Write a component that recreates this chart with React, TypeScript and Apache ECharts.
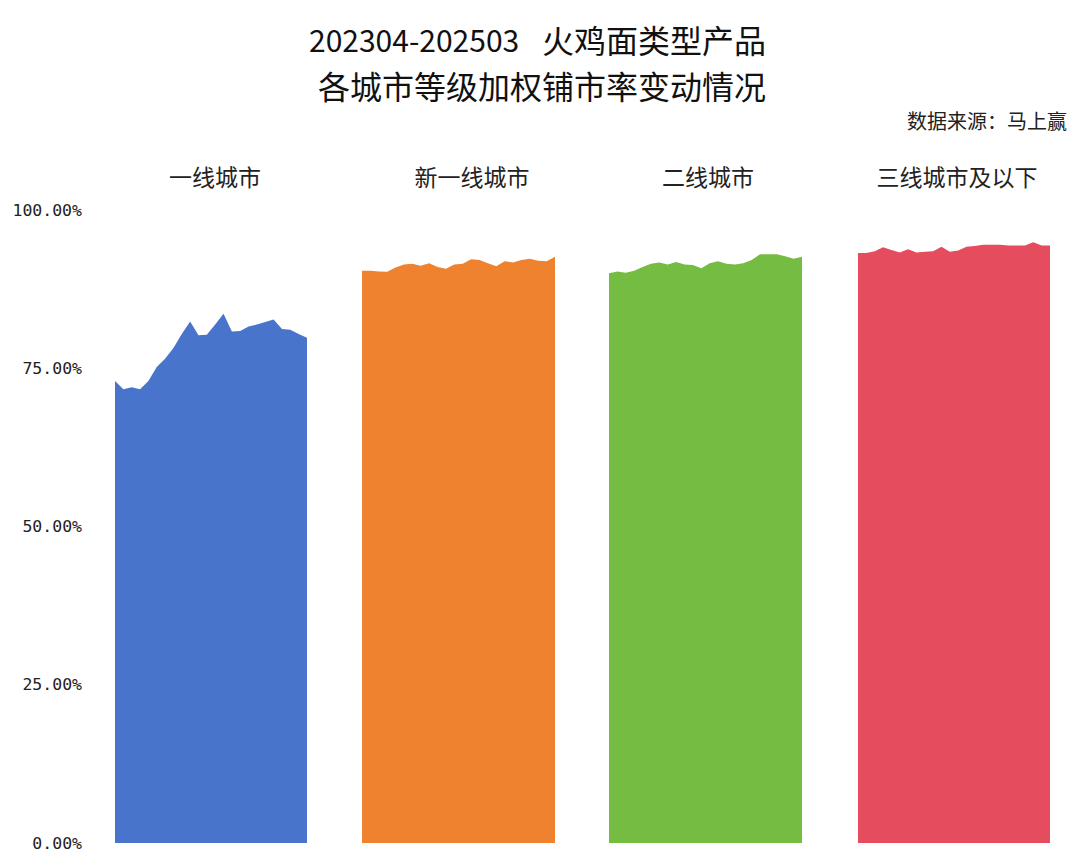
import React, { useEffect, useRef } from 'react';
import * as echarts from 'echarts';

// 202304 - 202503, 24 months
const months = [
  '202304', '202305', '202306', '202307', '202308', '202309', '202310', '202311',
  '202312', '202401', '202402', '202403', '202404', '202405', '202406', '202407',
  '202408', '202409', '202410', '202411', '202412', '202501', '202502', '202503'
];

const tierNames = ['一线城市', '新一线城市', '二线城市', '三线城市及以下'];

const tier1 = [
  73.0, 71.7, 72.0, 71.7, 73.0, 75.2, 76.5, 78.2, 80.4, 82.4, 80.2, 80.3,
  81.9, 83.6, 80.8, 80.9, 81.6, 81.9, 82.3, 82.7, 81.2, 81.1, 80.4, 79.8
];
const tierNew1 = [
  90.4, 90.4, 90.3, 90.25, 90.9, 91.4, 91.5, 91.2, 91.6, 91.0, 90.7, 91.4,
  91.5, 92.2, 92.1, 91.6, 91.1, 91.9, 91.7, 92.1, 92.3, 92.0, 91.9, 92.6
];
const tier2 = [
  90.0, 90.3, 90.1, 90.4, 91.0, 91.5, 91.7, 91.4, 91.8, 91.4, 91.3, 90.8,
  91.6, 91.9, 91.5, 91.4, 91.6, 92.1, 93.0, 93.0, 93.0, 92.7, 92.3, 92.6
];
const tier3 = [
  93.2, 93.2, 93.5, 94.1, 93.7, 93.3, 93.8, 93.3, 93.4, 93.5, 94.2, 93.4,
  93.6, 94.2, 94.3, 94.5, 94.5, 94.5, 94.4, 94.4, 94.4, 94.9, 94.4, 94.4
];

const tierValues = [tier1, tierNew1, tier2, tier3];
const tierColors = ['#4874CB', '#EE822F', '#75BD42', '#E54C5E'];

const yTicks = [0, 25, 50, 75, 100];

const panelLeft = [115, 362, 609, 858];
const panelWidth = [192, 193, 193, 192];
const titleCenter = [215, 472, 708, 957];
const plotTop = 210;
const plotHeight = 633;

const cjk = '"Noto Sans CJK SC", sans-serif';
const mono = '"DejaVu Sans Mono", "Noto Sans CJK SC", monospace';

export default function App() {
  const chartRef = useRef<HTMLDivElement>(null);

  useEffect(() => {
    if (!chartRef.current) return;
    const chart = echarts.init(chartRef.current, null, { renderer: 'svg' });

    const option: echarts.EChartsOption = {
      animation: false,
      backgroundColor: '#ffffff',
      grid: tierNames.map((_, i) => ({
        left: panelLeft[i],
        top: plotTop,
        width: panelWidth[i],
        height: plotHeight
      })),
      xAxis: tierNames.map((_, i) => ({
        type: 'category',
        gridIndex: i,
        data: months,
        boundaryGap: false,
        show: false
      })),
      yAxis: tierNames.map((_, i) => ({
        type: 'value',
        gridIndex: i,
        min: yTicks[0],
        max: yTicks[yTicks.length - 1],
        interval: 25,
        show: i === 0,
        axisLine: { show: false },
        axisTick: { show: false },
        splitLine: { show: false },
        axisLabel: {
          show: i === 0,
          margin: 33,
          color: '#222',
          fontSize: 16.5,
          fontFamily: mono,
          formatter: (v: number) => `${v.toFixed(2)}%`
        }
      })),
      series: tierNames.map((name, i) => ({
        name,
        type: 'line',
        xAxisIndex: i,
        yAxisIndex: i,
        data: tierValues[i],
        symbol: 'none',
        lineStyle: { width: 0 },
        itemStyle: { color: tierColors[i] },
        areaStyle: { color: tierColors[i], opacity: 1 }
      })),
      graphic: [
        {
          type: 'text',
          x: 309,
          y: 38.5,
          style: {
            text: '202304-202503',
            font: `30px ${cjk}`,
            fill: '#111',
            align: 'left',
            verticalAlign: 'middle'
          }
        },
        {
          type: 'text',
          x: 542,
          y: 38.5,
          style: {
            text: '火鸡面类型产品',
            font: `32px ${cjk}`,
            fill: '#111',
            align: 'left',
            verticalAlign: 'middle'
          }
        },
        {
          type: 'text',
          x: 542,
          y: 84.5,
          style: {
            text: '各城市等级加权铺市率变动情况',
            font: `32px ${cjk}`,
            fill: '#111',
            align: 'center',
            verticalAlign: 'middle'
          }
        },
        {
          type: 'text',
          x: 1067,
          y: 120,
          style: {
            text: '数据来源：马上赢',
            font: `20px ${cjk}`,
            fill: '#222',
            align: 'right',
            verticalAlign: 'middle'
          }
        },
        ...tierNames.map((name, i) => ({
          type: 'text' as const,
          x: titleCenter[i],
          y: 176,
          style: {
            text: name,
            font: `23px ${cjk}`,
            fill: '#222',
            align: 'center' as const,
            verticalAlign: 'middle' as const
          }
        }))
      ]
    };

    chart.setOption(option);

    return () => {
      chart.dispose();
    };
  }, []);

  return (
    <div
      ref={chartRef}
      style={{ position: 'fixed', left: 0, top: 0, width: 1080, height: 864 }}
    />
  );
}
